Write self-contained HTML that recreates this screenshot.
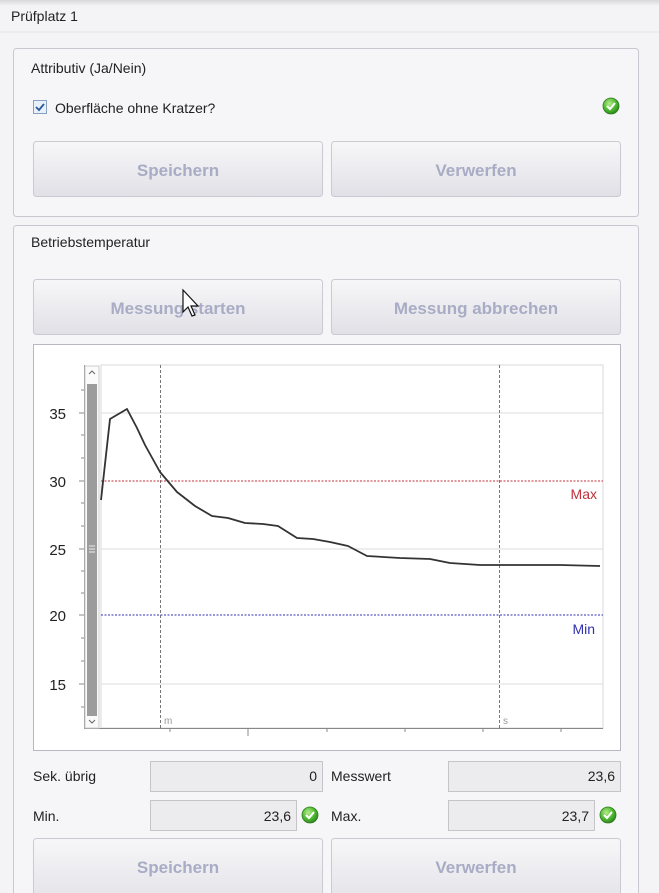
<!DOCTYPE html>
<html><head><meta charset="utf-8"><style>
html,body{margin:0;padding:0;background:#f4f4f6;}
svg{display:block;font-family:"Liberation Sans","DejaVu Sans",sans-serif;}
</style></head><body>
<svg width="659" height="893" viewBox="0 0 659 893" xmlns="http://www.w3.org/2000/svg">
<defs>
<linearGradient id="btn" x1="0" y1="0" x2="0" y2="1">
<stop offset="0" stop-color="#f7f7f9"/><stop offset="0.5" stop-color="#ececf0"/><stop offset="1" stop-color="#e0e0e6"/>
</linearGradient>
<linearGradient id="top" x1="0" y1="0" x2="0" y2="1">
<stop offset="0" stop-color="#d8d8dc"/><stop offset="1" stop-color="#f4f4f6"/>
</linearGradient>
<radialGradient id="ok" cx="0.4" cy="0.35" r="0.7">
<stop offset="0" stop-color="#b6ec8a"/><stop offset="0.6" stop-color="#4bb72f"/><stop offset="1" stop-color="#2a7f1c"/>
</radialGradient>
</defs>
<rect width="659" height="893" fill="#f4f4f6"/>
<rect width="659" height="6" fill="url(#top)"/>
<text x="11" y="21" font-size="14" fill="#222">Prüfplatz 1</text>
<line x1="0" y1="32" x2="659" y2="32" stroke="#e4e4e8"/>

<!-- group 1 -->
<rect x="13.5" y="48.5" width="625" height="168" rx="3" fill="#f6f6f8" stroke="#c8c8d0"/>
<text x="31" y="73" font-size="14" fill="#222">Attributiv (Ja/Nein)</text>
<rect x="33.5" y="100.5" width="13" height="13" fill="#e8f0fa" stroke="#8aa0c0"/>
<path d="M36 107 l3 3 l5 -6" stroke="#2b5a9a" stroke-width="1.8" fill="none"/>
<text x="55" y="113" font-size="14" fill="#222">Oberfläche ohne Kratzer?</text>
<circle cx="611" cy="106" r="8" fill="url(#ok)" stroke="#2f7a1f" stroke-width="0.8"/>
<path d="M607 106 l3 3 l5 -6" stroke="#fff" stroke-width="2" fill="none"/>
<rect x="33.5" y="141.5" width="289" height="55" rx="3" fill="url(#btn)" stroke="#cacad2"/>
<text x="178" y="176" font-size="17" font-weight="bold" fill="#a8acc4" text-anchor="middle">Speichern</text>
<rect x="331.5" y="141.5" width="289" height="55" rx="3" fill="url(#btn)" stroke="#cacad2"/>
<text x="476" y="176" font-size="17" font-weight="bold" fill="#a8acc4" text-anchor="middle">Verwerfen</text>

<!-- group 2 -->
<rect x="13.5" y="225.5" width="625" height="680" rx="3" fill="#f6f6f8" stroke="#c8c8d0"/>
<text x="31" y="247" font-size="14" fill="#222">Betriebstemperatur</text>
<rect x="33.5" y="279.5" width="289" height="55" rx="3" fill="url(#btn)" stroke="#cacad2"/>
<text x="178" y="314" font-size="17" font-weight="bold" fill="#a8acc4" text-anchor="middle">Messung starten</text>
<rect x="331.5" y="279.5" width="289" height="55" rx="3" fill="url(#btn)" stroke="#cacad2"/>
<text x="476" y="314" font-size="17" font-weight="bold" fill="#a8acc4" text-anchor="middle">Messung abbrechen</text>
<path d="M183 290 v22 l5 -5 l4 9 l3 -1 l-4 -9 h7 z" fill="#fff" stroke="#111" stroke-width="1.2"/>

<!-- chart -->
<rect x="33.5" y="344.5" width="587" height="406" fill="#fff" stroke="#b8b8c0"/>
<rect x="101" y="365" width="502" height="363" fill="#fff" stroke="#d8d8d8"/>
<g stroke="#dcdcdc" stroke-width="1">
<line x1="101" y1="413" x2="603" y2="413"/>
<line x1="101" y1="549" x2="603" y2="549"/>
<line x1="101" y1="684" x2="603" y2="684"/>
</g>
<line x1="160.5" y1="365" x2="160.5" y2="728" stroke="#777" stroke-dasharray="3,2"/>
<line x1="499.5" y1="365" x2="499.5" y2="728" stroke="#777" stroke-dasharray="3,2"/>
<text x="164" y="724" font-size="10" fill="#999">m</text>
<text x="503" y="724" font-size="10" fill="#999">s</text>
<line x1="101" y1="481" x2="603" y2="481" stroke="#c0303a" stroke-dasharray="2,1.5"/>
<line x1="101" y1="615" x2="603" y2="615" stroke="#3030b0" stroke-dasharray="2,1.5"/>
<text x="597" y="499" font-size="14" fill="#c0303a" text-anchor="end">Max</text>
<text x="595" y="634" font-size="14" fill="#3030b0" text-anchor="end">Min</text>
<!-- axes -->
<line x1="84.5" y1="365" x2="84.5" y2="728" stroke="#888"/>
<line x1="84" y1="728.5" x2="603" y2="728.5" stroke="#888"/>
<g stroke="#888">
<line x1="79" y1="413" x2="84" y2="413"/><line x1="79" y1="481" x2="84" y2="481"/><line x1="79" y1="549" x2="84" y2="549"/><line x1="79" y1="615" x2="84" y2="615"/><line x1="79" y1="684" x2="84" y2="684"/>
<line x1="81" y1="390" x2="84" y2="390"/><line x1="81" y1="435" x2="84" y2="435"/><line x1="81" y1="458" x2="84" y2="458"/><line x1="81" y1="503" x2="84" y2="503"/><line x1="81" y1="526" x2="84" y2="526"/><line x1="81" y1="571" x2="84" y2="571"/><line x1="81" y1="593" x2="84" y2="593"/><line x1="81" y1="638" x2="84" y2="638"/><line x1="81" y1="661" x2="84" y2="661"/><line x1="81" y1="707" x2="84" y2="707"/>
<line x1="248" y1="728" x2="248" y2="736"/><line x1="170" y1="728" x2="170" y2="732"/><line x1="327" y1="728" x2="327" y2="732"/><line x1="405" y1="728" x2="405" y2="732"/><line x1="483" y1="728" x2="483" y2="732"/><line x1="561" y1="728" x2="561" y2="732"/>
</g>
<g font-size="15" fill="#222" text-anchor="end">
<text x="66" y="419">35</text><text x="66" y="487">30</text><text x="66" y="555">25</text><text x="66" y="621">20</text><text x="66" y="690">15</text>
</g>
<!-- scrollbar -->
<rect x="85" y="366" width="14" height="362" fill="#fafafa" stroke="#ccc"/>
<rect x="87" y="384" width="10" height="332" fill="#9c9c9c"/>
<path d="M89 374 l3 -3 l3 3" stroke="#666" fill="none"/>
<path d="M89 720 l3 3 l3 -3" stroke="#666" fill="none"/>
<g stroke="#eee"><line x1="89" y1="546" x2="95" y2="546"/><line x1="89" y1="549" x2="95" y2="549"/><line x1="89" y1="552" x2="95" y2="552"/></g>
<!-- series -->
<polyline fill="none" stroke="#333" stroke-width="1.8" stroke-linejoin="round" points="101,500 110,419 127,409 137,428 145,445 160,472 177,492 195,506 212,516 228,518 245,523 263,524 278,526 297,538 313,539 330,542 348,546 367,556 400,558 430,559 450,563 480,565 520,565 560,565 600,566"/>

<!-- fields -->
<g font-size="14" fill="#222">
<text x="33" y="781">Sek. übrig</text>
<text x="331" y="781">Messwert</text>
<text x="33" y="821">Min.</text>
<text x="331" y="821">Max.</text>
</g>
<rect x="150.5" y="761.5" width="172" height="30" fill="#ececee" stroke="#c4c4ca"/>
<rect x="448.5" y="761.5" width="172" height="30" fill="#ececee" stroke="#c4c4ca"/>
<rect x="150.5" y="800.5" width="146" height="30" fill="#ececee" stroke="#c4c4ca"/>
<rect x="448.5" y="800.5" width="146" height="30" fill="#ececee" stroke="#c4c4ca"/>
<g font-size="14" fill="#222" text-anchor="end">
<text x="317" y="781">0</text>
<text x="615" y="781">23,6</text>
<text x="291" y="821">23,6</text>
<text x="589" y="821">23,7</text>
</g>
<circle cx="310" cy="815" r="8" fill="url(#ok)" stroke="#2f7a1f" stroke-width="0.8"/>
<path d="M306 815 l3 3 l5 -6" stroke="#fff" stroke-width="2" fill="none"/>
<circle cx="608" cy="815" r="8" fill="url(#ok)" stroke="#2f7a1f" stroke-width="0.8"/>
<path d="M604 815 l3 3 l5 -6" stroke="#fff" stroke-width="2" fill="none"/>
<rect x="33.5" y="838.5" width="289" height="70" rx="3" fill="url(#btn)" stroke="#cacad2"/>
<text x="178" y="873" font-size="17" font-weight="bold" fill="#a8acc4" text-anchor="middle">Speichern</text>
<rect x="331.5" y="838.5" width="289" height="70" rx="3" fill="url(#btn)" stroke="#cacad2"/>
<text x="476" y="873" font-size="17" font-weight="bold" fill="#a8acc4" text-anchor="middle">Verwerfen</text>
</svg>
</body></html>
